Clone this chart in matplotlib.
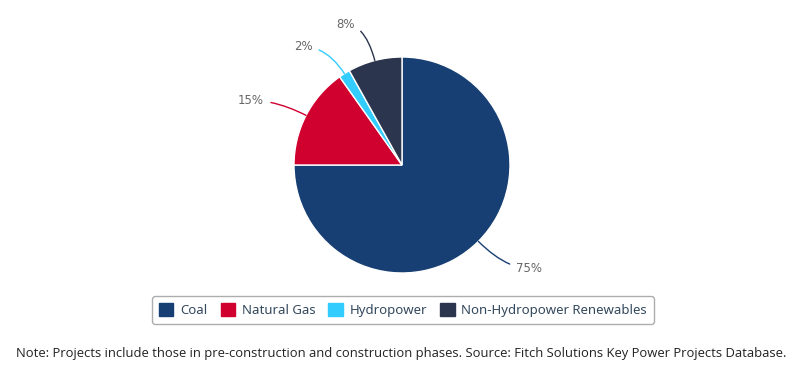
import numpy as np
import matplotlib
matplotlib.use("Agg")
import matplotlib.pyplot as plt
from matplotlib.patches import Patch

categories = ["Coal", "Natural Gas", "Hydropower", "Non-Hydropower Renewables"]
values = [75.0, 15.2, 1.7, 8.1]
colors = ["#183f73", "#d0002f", "#33ccff", "#2b354d"]
# label offsets in pixels (dx, dy) from slice edge, and alignment
label_offsets = [(38, -27, "left"), (-42, 15, "right"), (-32, 27, "right"), (-20, 36, "right")]
note = "Note: Projects include those in pre-construction and construction phases. Source: Fitch Solutions Key Power Projects Database."

W, H = 800, 369
fig = plt.figure(figsize=(W / 100, H / 100), dpi=100)
cx, cy, r = 402, 165, 108
ax = fig.add_axes([(cx - r) / W, (H - cy - r) / H, 2 * r / W, 2 * r / H])

wedges, _ = ax.pie(values, colors=colors, startangle=90, counterclock=False, radius=1,
                   wedgeprops=dict(edgecolor="white", linewidth=1))
ax.set_xlim(-1, 1)
ax.set_ylim(-1, 1)
ax.axis("off")

total = sum(values)
for w, v, c, (dx, dy, ha) in zip(wedges, values, colors, label_offsets):
    ang = np.deg2rad((w.theta1 + w.theta2) / 2)
    xy = (np.cos(ang), np.sin(ang))
    ax.annotate(f"{round(v / total * 100):d}%", xy=xy, xytext=(dx, dy), textcoords="offset pixels",
                ha=ha, va="center", fontsize=8.5, color="#666666", family="DejaVu Sans",
                annotation_clip=False,
                arrowprops=dict(arrowstyle="-", color=c, lw=1, shrinkA=3, shrinkB=0,
                                connectionstyle="angle3,angleA=0,angleB=%d" % int(np.rad2deg(ang))))

handles = [Patch(facecolor=c, edgecolor=c, label=l) for c, l in zip(colors, categories)]
leg = fig.legend(handles=handles, loc="center", bbox_to_anchor=(403 / W, 1 - 310 / H), ncol=4,
                 frameon=True, fancybox=True, edgecolor="#999999",
                 handlelength=1.1, handleheight=1.1, handletextpad=0.5, columnspacing=1.0,
                 borderpad=0.5, prop={"family": "Noto Sans", "size": 9.5})
for t in leg.get_texts():
    t.set_color("#34495e")
leg.get_frame().set_linewidth(1)

fig.text(401 / W, 1 - 354 / H, note, ha="center", va="center", fontsize=9.4,
         family="Open Sans", color="#222222")

fig.savefig("out.png", dpi=100)
